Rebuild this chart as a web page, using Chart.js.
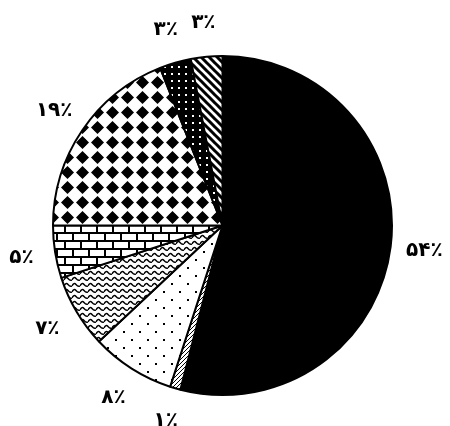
<!DOCTYPE html>
<html>
<head>
<meta charset="utf-8">
<script src="https://cdn.jsdelivr.net/npm/chart.js@4"></script>
<style>
  html, body { margin: 0; padding: 0; background: #fff; }
  #wrap { width: 450px; height: 426px; }
</style>
</head>
<body>
<div id="wrap"><canvas id="c" width="450" height="426"></canvas></div>
<script>
// ---- data ----
const categories = ['A', 'B', 'C', 'D', 'E', 'F', 'G', 'H'];
const values = [54, 1, 8, 7, 5, 19, 3, 3];
const patternNames = ['solid', 'fineHatch', 'sparseDots', 'waves', 'bricks', 'diamonds', 'denseDots', 'stripes'];

function toPersianDigits(n) {
  const d = ['۰','۱','۲','۳','۴','۵','۶','۷','۸','۹'];
  return String(n).replace(/[0-9]/g, ch => d[+ch]);
}
const pctLabels = values.map(v => toPersianDigits(v) + '٪');

// ---- patterns ----
function tile(w, h, draw) {
  const c = document.createElement('canvas');
  c.width = w; c.height = h;
  const x = c.getContext('2d');
  x.fillStyle = '#fff'; x.fillRect(0, 0, w, h);
  draw(x, w, h);
  return x.createPattern(c, 'repeat');
}
const makers = {
  solid: () => '#000',
  fineHatch: () => tile(4, 4, (x) => {
    x.strokeStyle = '#000'; x.lineWidth = 1;
    x.beginPath();
    x.moveTo(-1, 5); x.lineTo(5, -1);
    x.moveTo(-1, 1); x.lineTo(1, -1);
    x.moveTo(3, 5); x.lineTo(5, 3);
    x.stroke();
  }),
  sparseDots: () => tile(16, 16, (x) => {
    x.fillStyle = '#000';
    x.fillRect(3, 3, 2, 2);
    x.fillRect(11, 11, 2, 2);
  }),
  waves: () => tile(8, 6, (x) => {
    x.strokeStyle = '#000'; x.lineWidth = 1.4;
    x.beginPath();
    x.moveTo(0, 4); x.quadraticCurveTo(2, 0, 4, 2.5);
    x.quadraticCurveTo(6, 5, 8, 4);
    x.stroke();
  }),
  bricks: () => tile(16, 16, (x) => {
    x.fillStyle = '#000';
    x.fillRect(0, 0, 16, 2);
    x.fillRect(0, 8, 16, 2);
    x.fillRect(0, 0, 2, 8);
    x.fillRect(8, 8, 2, 8);
  }),
  diamonds: () => tile(15, 15, (x) => {
    x.fillStyle = '#000';
    const cx = 7.5, cy = 7.5, r = 6.5;
    x.beginPath();
    x.moveTo(cx, cy - r); x.lineTo(cx + r, cy); x.lineTo(cx, cy + r); x.lineTo(cx - r, cy);
    x.closePath(); x.fill();
    x.beginPath(); x.arc(cx, cy, 4.2, 0, Math.PI * 2); x.fill();
  }),
  denseDots: () => tile(7, 7, (x, w, h) => {
    x.fillStyle = '#000'; x.fillRect(0, 0, w, h);
    x.fillStyle = '#fff'; x.fillRect(3, 3, 2, 2);
  }),
  stripes: () => tile(8, 8, (x) => {
    x.strokeStyle = '#000'; x.lineWidth = 3;
    x.beginPath();
    for (let k = -1; k <= 1; k++) { x.moveTo(k * 8 - 1, -1); x.lineTo(k * 8 + 9, 9); }
    x.stroke();
  })
};
const fills = patternNames.map(n => makers[n]());

// ---- label plugin ----
const outerLabels = {
  id: 'outerLabels',
  afterDatasetsDraw(chart) {
    const ctx = chart.ctx;
    const meta = chart.getDatasetMeta(0);
    ctx.save();
    ctx.fillStyle = '#000';
    ctx.font = 'bold 20px "DejaVu Sans"';
    ctx.textAlign = 'center';
    ctx.textBaseline = 'middle';
    meta.data.forEach((arc, i) => {
      const p = arc.getProps(['x', 'y', 'startAngle', 'endAngle', 'outerRadius'], true);
      const mid = (p.startAngle + p.endAngle) / 2;
      const r = p.outerRadius + 34;
      ctx.fillText(pctLabels[i], p.x + Math.cos(mid) * r, p.y + Math.sin(mid) * r);
    });
    ctx.restore();
  }
};

new Chart(document.getElementById('c'), {
  type: 'pie',
  data: {
    labels: categories,
    datasets: [{
      data: values,
      backgroundColor: fills,
      borderColor: '#000',
      borderWidth: 2
    }]
  },
  options: {
    responsive: false,
    animation: false,
    layout: { padding: { left: 52, top: 55, right: 57, bottom: 30 } },
    plugins: { legend: { display: false }, tooltip: { enabled: false } }
  },
  plugins: [outerLabels]
});
</script>
</body>
</html>
